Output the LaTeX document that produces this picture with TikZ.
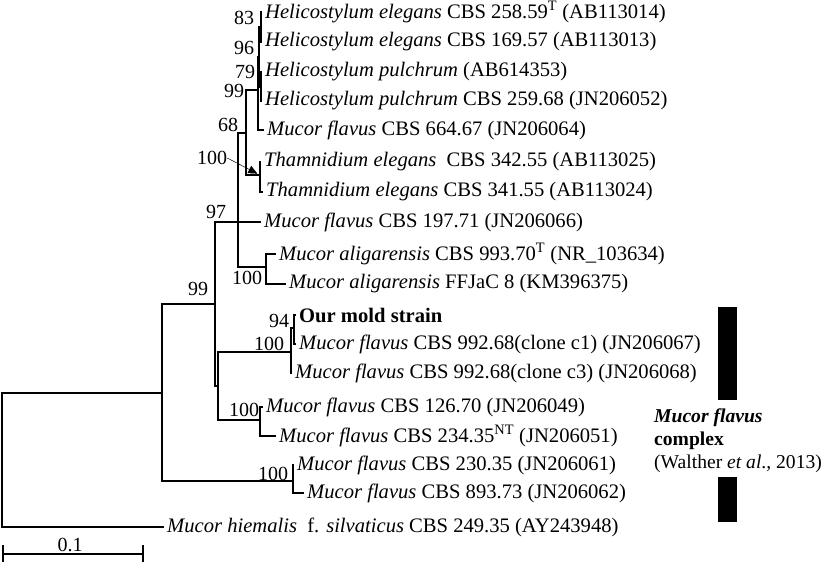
\documentclass[tikz,border=0pt]{standalone}
\usepackage{fontspec}
\setmainfont{Liberation Serif}
\usetikzlibrary{arrows.meta}

\tikzset{
  leaf/.style={anchor=west, inner xsep=3pt, inner ysep=0pt, font=\fontsize{20.6}{24}\selectfont},
  boot/.style={inner sep=0pt, font=\fontsize{20}{24}\selectfont},
  note/.style={anchor=base west, inner sep=0pt, font=\fontsize{19.6}{24}\selectfont},
  branch/.style={line width=1.1pt}
}

\begin{document}
\begin{tikzpicture}[x=1pt,y=-1pt]
  \useasboundingbox (0,0) rectangle (827,564);

  % taxa
  \foreach \n/\x/\y/\t in {
      1/262/12/{\textit{Helicostylum elegans} CBS 258.59\textsuperscript{T} (AB113014)},
      2/262/42/{\textit{Helicostylum elegans} CBS 169.57 (AB113013)},
      3/262/72/{\textit{Helicostylum pulchrum} (AB614353)},
      4/262/101/{\textit{Helicostylum pulchrum} CBS 259.68 (JN206052)},
      5/264/130/{\textit{Mucor flavus} CBS 664.67 (JN206064)},
      6/261/162/{\textit{Thamnidium elegans}\ \ CBS 342.55 (AB113025)},
      7/263/192/{\textit{Thamnidium elegans} CBS 341.55 (AB113024)},
      8/261/222/{\textit{Mucor flavus} CBS 197.71 (JN206066)},
      9/276/254/{\textit{Mucor aligarensis} CBS 993.70\textsuperscript{T} (NR\_103634)},
      10/286/284/{\textit{Mucor aligarensis} FFJaC 8 (KM396375)},
      11/296/315/{\textbf{Our mold strain}},
      12/296/344/{\textit{Mucor flavus} CBS 992.68(clone c1) (JN206067)},
      13/292/373/{\textit{Mucor flavus} CBS 992.68(clone c3) (JN206068)},
      14/263/407/{\textit{Mucor flavus} CBS 126.70 (JN206049)},
      15/276/436/{\textit{Mucor flavus} CBS 234.35\textsuperscript{NT} (JN206051)},
      16/294/465/{\textit{Mucor flavus} CBS 230.35 (JN206061)},
      17/304/493/{\textit{Mucor flavus} CBS 893.73 (JN206062)},
      18/164/527/{\textit{Mucor hiemalis}\ \ f. \textit{silvaticus} CBS 249.35 (AY243948)}}
    \node[leaf] (l\n) at (\x,\y) {\t};

  % inner nodes
  \coordinate (n83)  at (261,27);
  \coordinate (n79)  at (261,87);
  \coordinate (n96)  at (259,57);
  \coordinate (n99a) at (258,90);
  \coordinate (nTh)  at (260,175);
  \coordinate (n68)  at (246,133);
  \coordinate (nAl)  at (266,267);
  \coordinate (n97)  at (238,222);
  \coordinate (n94)  at (294,328);
  \coordinate (nFc)  at (291,352);
  \coordinate (nFl)  at (260,420);
  \coordinate (nMid) at (218,386);
  \coordinate (n99b) at (215,304);
  \coordinate (nFb)  at (293,481);
  \coordinate (nIn)  at (162,393);
  \coordinate (root) at (2,460);

  % branches
  \draw[branch] (n83) |- (l1.west) (n83) |- (l2.west);
  \draw[branch] (n79) |- (l3.west) (n79) |- (l4.west);
  \draw[branch] (n96) |- (n83) (n96) |- (n79);
  \draw[branch] (n99a) |- (n96) (n99a) |- (l5.west);
  \draw[branch] (nTh) |- (l6.west) (nTh) |- (l7.west);
  \draw[branch] (n68) |- (n99a) (n68) |- (nTh);
  \draw[branch] (nAl) |- (l9.west) (nAl) |- (l10.west);
  \draw[branch] (n97) |- (n68) (n97) -- (l8.west) (n97) |- (nAl);
  \draw[line width=2.2pt] (n97) -- ++(0,-46);
  \draw[branch] (n94) |- (l11.west) (n94) |- (l12.west);
  \draw[branch] (nFc) |- (n94) (nFc) |- (l13.west);
  \draw[branch] (nFl) |- (l14.west) (nFl) |- (l15.west);
  \draw[branch] (nMid) |- (nFc) (nMid) |- (nFl);
  \draw[branch] (n99b) |- (n97) (n99b) |- (nMid);
  \draw[branch] (nFb) |- (l16.west) (nFb) |- (l17.west);
  \draw[branch] (nIn) |- (n99b) (nIn) |- (nFb);
  \draw[branch] (root) |- (nIn) (root) |- (l18.west);

  % bootstrap values
  \node[boot] (b83)  at (244,18)  {83};
  \node[boot] (b96)  at (244,48)  {96};
  \node[boot] (b79)  at (245,72)  {79};
  \node[boot] (b99a) at (234,91)  {99};
  \node[boot] (b68)  at (228,125) {68};
  \node[boot] (bTh)  at (212,158) {100};
  \node[boot] (b97)  at (216,212) {97};
  \node[boot] (bAl)  at (247,278) {100};
  \node[boot] (b99b) at (198,289) {99};
  \node[boot] (b94)  at (279,321) {94};
  \node[boot] (bFc)  at (269,344) {100};
  \node[boot] (bFl)  at (244,410) {100};
  \node[boot] (bFb)  at (273,474) {100};
  \draw[-{Triangle[length=9pt,width=8pt]}, line width=0.5pt, shorten >=3pt] (bTh.east) -- (nTh);

  % scale bar
  \coordinate (s0) at (3,554);
  \coordinate (s1) at (143,554);
  \draw[branch] (s0) -- (s1);
  \draw[branch] (s0) ++(0,-9) -- ++(0,17);
  \draw[branch] (s1) ++(0,-9) -- ++(0,17);
  \node[boot] (sc) at (70,545) {0.1};

  % complex
  \fill (718,307) rectangle (737,400);
  \fill (718,477) rectangle (737,522);
  \node[note] (c1) at (654,422) {\textbf{\textit{Mucor flavus}}};
  \node[note] (c2) at (654,445) {\textbf{complex}};
  \node[note] (c3) at (654,468) {(Walther \textit{et al}., 2013)};
\end{tikzpicture}
\end{document}
